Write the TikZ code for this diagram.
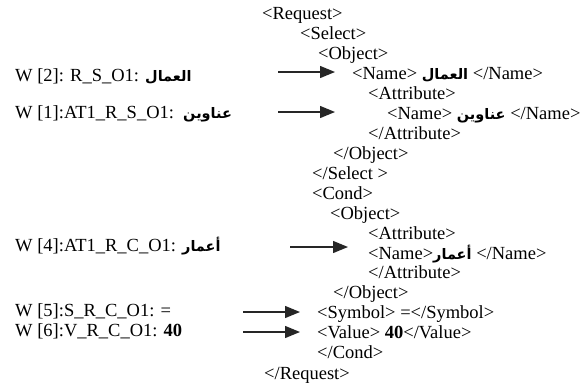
\documentclass[tikz,border=0pt]{standalone}
\usepackage{fontspec}
\setmainfont{Liberation Serif}
\newfontfamily\arabicfont[Script=Arabic]{DejaVu Sans}
\TeXXeTstate=1
\usetikzlibrary{arrows.meta}
\newcommand{\arw}[1]{{\arabicfont\bfseries\fontsize{14.5}{16}\selectfont\beginR #1\endR}}
\tikzset{
  xml/.style={anchor=base west, inner sep=0pt},
  lbl/.style={anchor=base west, inner sep=0pt},
  arr/.style={-{Triangle[length=15pt,width=12pt]}, line width=1.3pt, black!85},
}
\begin{document}
\begin{tikzpicture}[x=1pt,y=-1pt,font=\fontsize{18.5}{20}\selectfont]
\useasboundingbox (0,0) rectangle (583,383);
% XML lines
\node[xml] (l1)  at (262,19.5)  {<Request>};
\node[xml] (l2)  at (300,39.5)  {<Select>};
\node[xml] (l3)  at (318,59.5)  {<Object>};
\node[xml] (l4)  at (352,79.5)  {<Name> \arw{العمال} </Name>};
\node[xml] (l5)  at (368,99.5)  {<Attribute>};
\node[xml] (l6)  at (387,119.5) {<Name> \arw{عناوين} </Name>};
\node[xml] (l7)  at (368,139.5) {</Attribute>};
\node[xml] (l8)  at (333,159.5) {</Object>};
\node[xml] (l9)  at (312,179.5) {</Select >};
\node[xml] (l10) at (312,199.5) {<Cond>};
\node[xml] (l11) at (330,219.5) {<Object>};
\node[xml] (l12) at (368,239.5) {<Attribute>};
\node[xml] (l13) at (368,259)   {<Name>\arw{أعمار} </Name>};
\node[xml] (l14) at (368,278.5) {</Attribute>};
\node[xml] (l15) at (333,298.5) {</Object>};
\node[xml] (l16) at (317,318.5) {<Symbol> =</Symbol>};
\node[xml] (l17) at (317,338.5) {<Value> \textbf{40}</Value>};
\node[xml] (l18) at (317,358.5) {</Cond>};
\node[xml] (l19) at (264,379)   {</Request>};
% left labels
\node[lbl] (w2) at (15,81)  {W [2]: R\_S\_O1: \arw{العمال}};
\node[lbl] (w1) at (15,118.5) {W [1]:AT1\_R\_S\_O1:\ \ \arw{عناوين}};
\node[lbl] (w4) at (15,251) {W [4]:AT1\_R\_C\_O1: \arw{أعمار}};
\node[lbl] (w5) at (15,316) {W [5]:S\_R\_C\_O1: =};
\node[lbl] (w6) at (15,336) {W [6]:V\_R\_C\_O1: \textbf{40}};
% arrow end points
\coordinate (s1) at (278,72);  \coordinate (e1) at (335,72);
\coordinate (s2) at (278,112); \coordinate (e2) at (335,112);
\coordinate (s3) at (290,247); \coordinate (e3) at (348,247);
\coordinate (s4) at (243,312); \coordinate (e4) at (300,312);
\coordinate (s5) at (243,332); \coordinate (e5) at (300,332);
\draw[arr] (s1) -- (e1);
\draw[arr] (s2) -- (e2);
\draw[arr] (s3) -- (e3);
\draw[arr] (s4) -- (e4);
\draw[arr] (s5) -- (e5);
\end{tikzpicture}
\end{document}
